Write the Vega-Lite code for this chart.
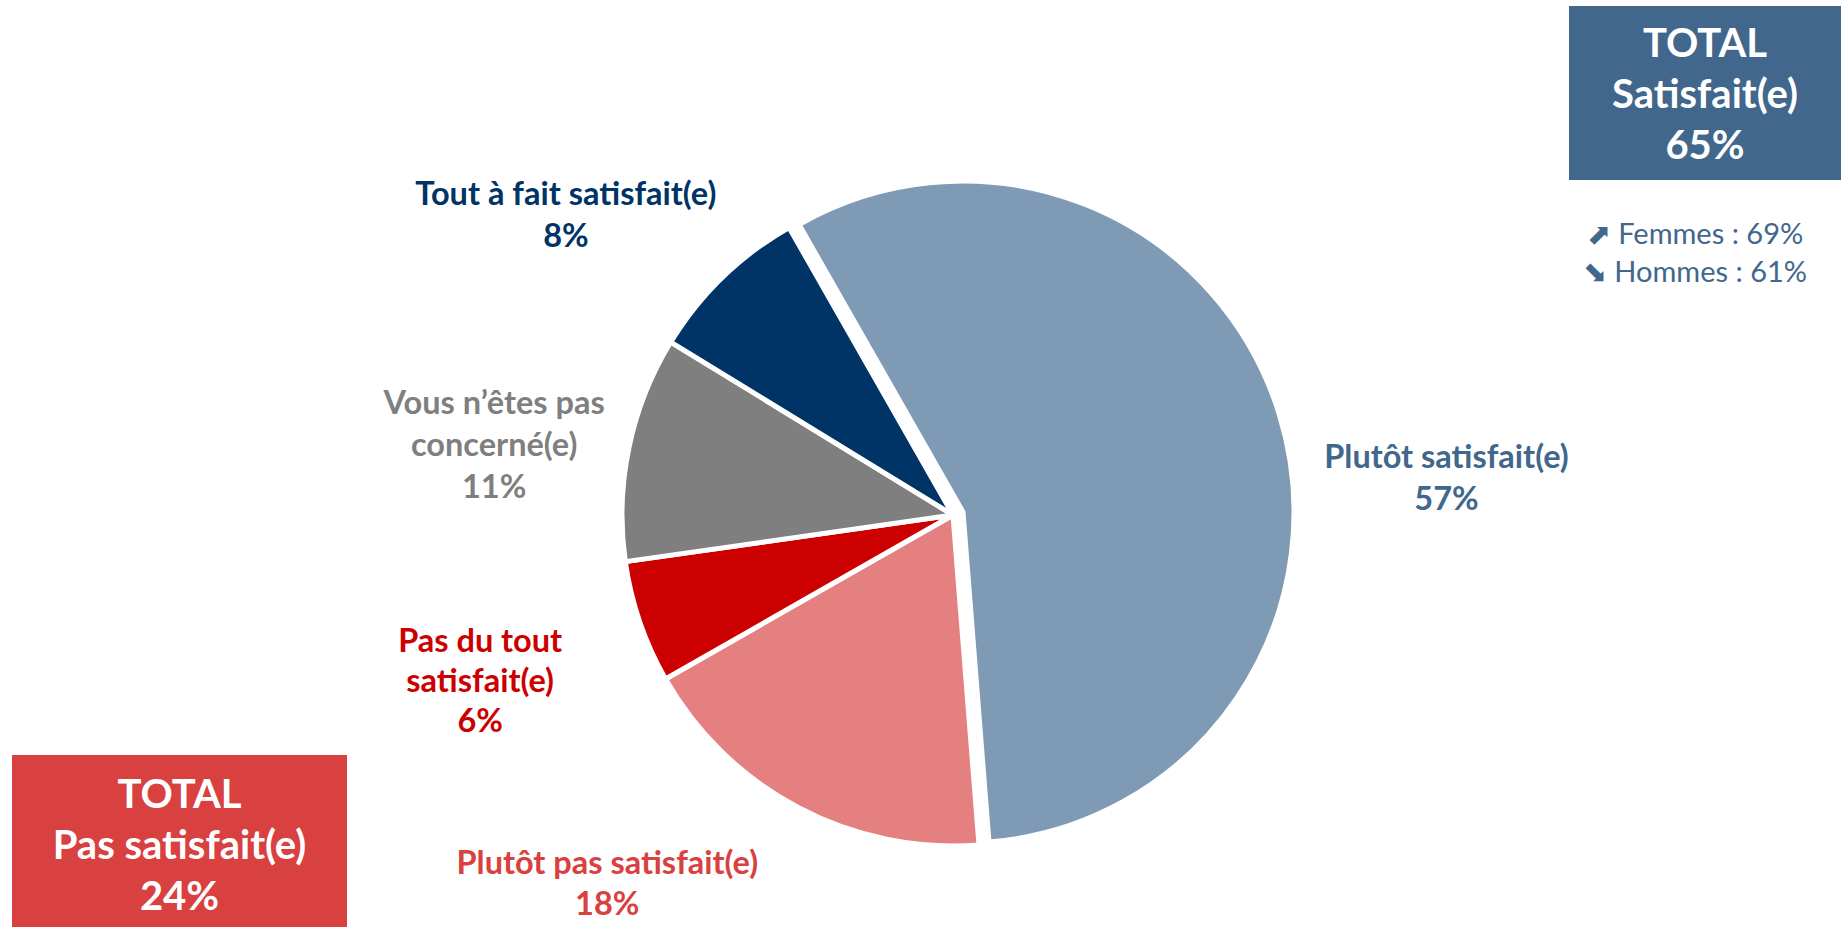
{
  "$schema": "https://vega.github.io/schema/vega-lite/v6.json",
  "padding": 0,
  "background": "white",
  "config": {"view": {"stroke": null}, "concat": {"spacing": 0}, "text": {"font": "Lato"}},
  "datasets": {
    "slices": [
      {"cat": "Plutôt satisfait(e)", "value": 57, "ord": 1, "label": "Plutôt satisfait(e)\n57%"},
      {"cat": "Plutôt pas satisfait(e)", "value": 18, "ord": 2, "label": "Plutôt pas satisfait(e)\n18%"},
      {"cat": "Pas du tout satisfait(e)", "value": 6, "ord": 3, "label": "Pas du tout\nsatisfait(e)\n6%"},
      {"cat": "Vous n’êtes pas concerné(e)", "value": 11, "ord": 4, "label": "Vous n’êtes pas\nconcerné(e)\n11%"},
      {"cat": "Tout à fait satisfait(e)", "value": 8, "ord": 5, "label": "Tout à fait satisfait(e)\n8%"}
    ],
    "empty": []
  },
  "spacing": 0,
  "hconcat": [
    {"width": 12, "height": 927, "data": {"name": "empty"}, "mark": {"type": "text"}, "encoding": {}},
    {
      "spacing": 0,
      "bounds": "flush",
      "vconcat": [
        {"width": 335, "height": 755, "data": {"name": "empty"}, "mark": {"type": "text"}, "encoding": {}},
        {
          "width": 335, "height": 172,
          "view": {"fill": "#D94040", "stroke": null},
          "data": {"values": [{"t": "TOTAL\nPas satisfait(e)\n24%"}]},
          "mark": {"type": "text", "color": "white", "font": "Lato", "fontWeight": "bold", "fontSize": 40, "lineBreak": "\n", "lineHeight": 51, "dy": -45},
          "encoding": {"text": {"field": "t", "type": "nominal"}}
        }
      ]
    },
    {
      "spacing": 0,
      "bounds": "flush",
      "vconcat": [
        {"width": 1212, "height": 103, "data": {"name": "empty"}, "mark": {"type": "text"}, "encoding": {}},
        {
          "width": 1212, "height": 824,
          "data": {"name": "slices"},
          "encoding": {
            "theta": {"field": "value", "type": "quantitative", "stack": true, "scale": {"domain": [0, 100], "range": [-0.5184, 5.7648]}},
            "order": {"field": "ord", "type": "quantitative"}
          },
          "layer": [
            {
              "mark": {"type": "arc", "radius": 331, "stroke": "white", "strokeWidth": 5, "strokeJoin": "round"},
              "encoding": {
                "color": {"field": "cat", "type": "nominal", "legend": null,
                  "scale": {"domain": ["Plutôt satisfait(e)", "Plutôt pas satisfait(e)", "Pas du tout satisfait(e)", "Vous n’êtes pas concerné(e)", "Tout à fait satisfait(e)"],
                            "range": ["#7F9AB4", "#E48080", "#CC0000", "#7F7F7F", "#003366"]}},
                "opacity": {"condition": {"test": "datum.cat === 'Plutôt satisfait(e)'", "value": 0}, "value": 1}
              }
            },
            {
              "mark": {"type": "arc", "radius": 331, "stroke": "white", "strokeWidth": 5, "strokeJoin": "round", "xOffset": 10, "yOffset": -3},
              "encoding": {
                "color": {"field": "cat", "type": "nominal", "legend": null},
                "opacity": {"condition": {"test": "datum.cat === 'Plutôt satisfait(e)'", "value": 1}, "value": 0}
              }
            },
            {
              "mark": {"type": "text", "radius": 495, "thetaOffset": 0.22, "font": "Lato", "fontWeight": "bold", "fontSize": 32.5, "color": "#41678D", "lineBreak": "\n", "lineHeight": 42, "dy": -18},
              "encoding": {"text": {"condition": {"test": "datum.cat === 'Plutôt satisfait(e)'", "field": "label", "type": "nominal"}, "value": ""}}
            },
            {
              "mark": {"type": "text", "radius": 504, "thetaOffset": 0.269, "font": "Lato", "fontWeight": "bold", "fontSize": 32.5, "color": "#D94040", "lineBreak": "\n", "lineHeight": 41, "dy": -18},
              "encoding": {"text": {"condition": {"test": "datum.cat === 'Plutôt pas satisfait(e)'", "field": "label", "type": "nominal"}, "value": ""}}
            },
            {
              "mark": {"type": "text", "radius": 501, "thetaOffset": -0.007, "font": "Lato", "fontWeight": "bold", "fontSize": 32.5, "color": "#CC0000", "lineBreak": "\n", "lineHeight": 40, "dy": -39},
              "encoding": {"text": {"condition": {"test": "datum.cat === 'Pas du tout satisfait(e)'", "field": "label", "type": "nominal"}, "value": ""}}
            },
            {
              "mark": {"type": "text", "radius": 464, "thetaOffset": -0.055, "font": "Lato", "fontWeight": "bold", "fontSize": 32.5, "color": "#7F7F7F", "lineBreak": "\n", "lineHeight": 42, "dy": -42},
              "encoding": {"text": {"condition": {"test": "datum.cat === 'Vous n’êtes pas concerné(e)'", "field": "label", "type": "nominal"}, "value": ""}}
            },
            {
              "mark": {"type": "text", "radius": 492, "thetaOffset": -0.136, "font": "Lato", "fontWeight": "bold", "fontSize": 32.5, "color": "#003366", "lineBreak": "\n", "lineHeight": 42, "dy": -16},
              "encoding": {"text": {"condition": {"test": "datum.cat === 'Tout à fait satisfait(e)'", "field": "label", "type": "nominal"}, "value": ""}}
            }
          ]
        }
      ]
    },
    {
      "spacing": 0,
      "bounds": "flush",
      "vconcat": [
        {"width": 272, "height": 6, "data": {"name": "empty"}, "mark": {"type": "text"}, "encoding": {}},
        {
          "width": 272, "height": 174,
          "view": {"fill": "#41678D", "stroke": null},
          "data": {"values": [{"t": "TOTAL\nSatisfait(e)\n65%"}]},
          "mark": {"type": "text", "color": "white", "font": "Lato", "fontWeight": "bold", "fontSize": 40, "lineBreak": "\n", "lineHeight": 51, "dy": -48},
          "encoding": {"text": {"field": "t", "type": "nominal"}}
        },
        {
          "width": 272, "height": 144,
          "data": {"values": [{"t": "⬈ Femmes : 69%\n⬊ Hommes : 61%"}]},
          "mark": {"type": "text", "color": "#41678D", "font": "Lato", "fontSize": 29, "lineBreak": "\n", "lineHeight": 38, "dy": -17, "dx": -10},
          "encoding": {"text": {"field": "t", "type": "nominal"}}
        }
      ]
    }
  ]
}
